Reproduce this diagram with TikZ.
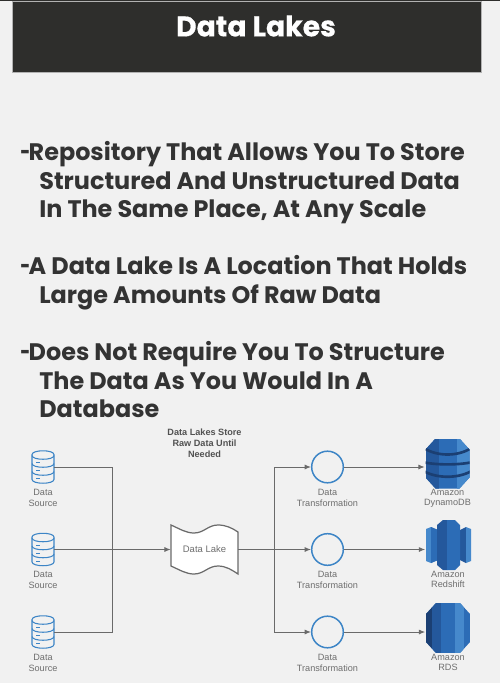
\documentclass[tikz,border=0pt]{standalone}
\usepackage{fontspec}
\setmainfont{Poppins}
\newfontfamily\captionfont{Liberation Sans}
\newfontfamily\titlefont[UprightFont=* Bold,FakeBold=0.5]{Poppins}
\usepackage{tikz}
\usetikzlibrary{arrows.meta,positioning,calc}
\usepackage{xcolor}
\definecolor{PageGray}{HTML}{f1f1f1}
\definecolor{HeaderDark}{HTML}{2e2e2c}
\definecolor{BodyDark}{HTML}{333333}
\definecolor{CaptionGray}{HTML}{6e6e6e}
\definecolor{WireGray}{HTML}{6a6a6a}
\definecolor{IconBlue}{HTML}{3d85c6}
\definecolor{AwsNight}{HTML}{1b3f73}
\definecolor{AwsDark}{HTML}{24589c}
\definecolor{AwsMid}{HTML}{2c6cb6}
\definecolor{AwsLight}{HTML}{4689cc}

\newcommand{\octagonpath}{(-12,-25) -- (12,-25) -- (22,-14) -- (22,14) -- (12,25) -- (-12,25) -- (-22,14) -- (-22,-14) -- cycle}
\newcommand{\dashkern}{\scalebox{0.72}[1]{-}\kern-0.9pt}
\newcommand{\hangkern}{\hspace*{10.8pt}}

\tikzset{
  bulletline/.style={anchor=north west,inner sep=0pt,align=left,text=BodyDark,font=\fontsize{13.6}{16.2}\selectfont\bfseries},
  caption/.style={inner sep=0pt,align=center,text=CaptionGray,font=\captionfont\fontsize{5.2}{6.2}\selectfont},
  sourcenode/.style={minimum width=12.5pt,minimum height=18.2pt,inner sep=0pt},
  awsnode/.style={minimum width=25.6pt,minimum height=28.5pt,inner sep=0pt},
  transnode/.style={circle,draw=IconBlue,fill=PageGray,line width=0.85pt,minimum size=18pt,inner sep=0pt},
  wire/.style={draw=WireGray,line width=0.55pt},
  flow/.style={wire,-{Latex[length=3.6pt,width=2.9pt]}},
  pics/dbicon/.style={code={
    \draw[IconBlue,fill=PageGray,line width=0.6pt,rounded corners=0.5pt] (-11,-11.5) .. controls (-11,-17.5) and (11,-17.5) .. (11,-11.5) -- (11,11.5) .. controls (11,17.5) and (-11,17.5) .. (-11,11.5) -- cycle;
    \draw[IconBlue,line width=0.6pt] (-11,-11.5) .. controls (-11,-6.5) and (11,-6.5) .. (11,-11.5);
    \draw[IconBlue,line width=0.6pt] (-11,-3.5) .. controls (-11,1.5) and (11,1.5) .. (11,-3.5);
    \draw[IconBlue,line width=0.6pt] (-11,4.5) .. controls (-11,9.5) and (11,9.5) .. (11,4.5);
    \draw[IconBlue,line width=0.5pt] (-7,-4.5) -- (-3,-4.5) (-7,3.5) -- (-3,3.5) (-7,11.5) -- (-3,11.5);
  }},
  pics/dynamoicon/.style={code={
    \begin{scope}
      \clip \octagonpath;
      \fill[AwsMid] (-22,-25) rectangle (22,25);
      \fill[AwsDark] (-22,-25) rectangle (-9,25);
      \fill[AwsLight] (9,-25) rectangle (22,25);
      \draw[AwsNight,line width=1.5pt] (-23,-15) .. controls (-10,-7) and (10,-7) .. (23,-15);
      \draw[AwsNight,line width=1.5pt] (-23,-1) .. controls (-10,1.5) and (10,1.5) .. (23,-1);
      \draw[AwsNight,line width=1.5pt] (-23,8) .. controls (-10,15) and (10,15) .. (23,8);
    \end{scope}
  }},
  pics/redshifticon/.style={code={
    \fill[AwsLight] (-22,-16) -- (-17,-18) -- (-10,-15) -- (-10,15) -- (-17,18) -- (-22,16) -- cycle;
    \fill[AwsMid] (-17,-18) -- (-10,-15) -- (-10,15) -- (-17,18) -- cycle;
    \fill[AwsDark] (12,-15) -- (18,-18) -- (18,18) -- (12,15) -- cycle;
    \fill[AwsLight] (18,-18) -- (23,-16) -- (23,16) -- (18,18) -- cycle;
    \fill[AwsDark] (-11,-20) -- (-5,-25) -- (-1,-25) -- (-1,25) -- (-5,25) -- (-11,20) -- cycle;
    \fill[AwsMid] (-1,-25) -- (7,-25) -- (12,-20) -- (12,20) -- (7,25) -- (-1,25) -- cycle;
  }},
  pics/rdsicon/.style={code={
    \begin{scope}
      \clip \octagonpath;
      \fill[AwsMid] (-22,-25) rectangle (22,25);
      \fill[AwsNight] (-22,-25) rectangle (-16,25);
      \fill[AwsDark] (-16,-25) rectangle (-7,25);
      \fill[AwsLight] (7,-25) rectangle (16,25);
    \end{scope}
  }}
}

\begin{document}
\begin{tikzpicture}[x=0.02cm,y=-0.02cm]
  \fill[PageGray] (0,0) rectangle (500,683);
  \useasboundingbox (0,0) rectangle (500,683);
  \fill[HeaderDark] (0,0) rectangle (500,1);
  \node[draw=gray!60,fill=HeaderDark,line width=0.3pt,minimum width=266.8pt,minimum height=40.4pt,inner sep=0pt] (header) at (246.5,36.5) {};
  \node[inner sep=0pt,text=white,font=\titlefont\fontsize{16.1}{18}\selectfont] (title) at (256,26) {Data Lakes};

  \node[bulletline] (bulletone) at (20,141.5) {\dashkern Repository That Allows You To Store\\\hangkern Structured And Unstructured Data\\\hangkern In The Same Place, At Any Scale};
  \node[bulletline] (bullettwo) at (20,255.5) {\dashkern A Data Lake Is A Location That Holds\\\hangkern Large Amounts Of Raw Data};
  \node[bulletline] (bulletthree) at (20,341.5) {\dashkern Does Not Require You To Structure\\\hangkern The Data As You Would In A\\\hangkern Database};

  \node[caption,text=BodyDark!85,font=\captionfont\bfseries\fontsize{5.2}{6.2}\selectfont] (note) at (204.5,443) {Data Lakes Store\\Raw Data Until\\Needed};

  % sources and transformations, one row each
  \foreach \row/\rowy in {1/467,2/549.5,3/632} {
    \node[sourcenode] (src\row) at (43,\rowy) {};
    \pic at (src\row) {dbicon};
    \node[caption,below=3pt of src\row] (srctext\row) {Data\\Source};
    \node[transnode] (trans\row) at (327.5,\rowy) {};
    \node[caption,below=3pt of trans\row] (transtext\row) {Data\\Transformation};
  }

  \node[inner sep=0pt,minimum width=38pt,minimum height=24pt] (lake) at (204.5,549.5) {};
  \draw[WireGray,fill=white,line width=0.7pt] (171,525) .. controls (180,529) and (186,533) .. (194,533) .. controls (204,533) and (208,525) .. (218,525) .. controls (226,525) and (232,528) .. (238,532) -- (238,574) .. controls (232,570) and (226,566) .. (218,566) .. controls (208,566) and (204,574) .. (194,574) .. controls (186,574) and (180,570) .. (171,566) -- cycle;
  \node[caption,font=\captionfont\fontsize{5.4}{6.5}\selectfont] (laketext) at (lake) {Data Lake};

  \node[awsnode] (dynamo) at (447.5,463.5) {};
  \pic at (dynamo) {dynamoicon};
  \node[caption,below=-0.3pt of dynamo] (dynamotext) {Amazon\\DynamoDB};
  \node[awsnode] (redshift) at (448,545) {};
  \pic at (redshift) {redshifticon};
  \node[caption,below=0pt of redshift] (redshifttext) {Amazon\\Redshift};
  \node[awsnode] (rds) at (448,628) {};
  \pic at (rds) {rdsicon};
  \node[caption,below=0pt of rds] (rdstext) {Amazon\\RDS};

  \coordinate (joinleft) at (112.5,549.5);
  \coordinate (joinright) at (274,549.5);
  \draw[wire] (src1.east) -| (joinleft);
  \draw[wire] (src3.east) -| (joinleft);
  \draw[flow] (src2.east) -- (lake.west);
  \draw[wire] (lake.east) -- (joinright);
  \draw[flow] (joinright) |- (trans1.west);
  \draw[flow] (joinright) -- (trans2.west);
  \draw[flow] (joinright) |- (trans3.west);
  \draw[flow] (trans1.east) -- (trans1 -| dynamo.west);
  \draw[flow] (trans2.east) -- (trans2 -| redshift.west);
  \draw[flow] (trans3.east) -- (trans3 -| rds.west);
\end{tikzpicture}
\end{document}
